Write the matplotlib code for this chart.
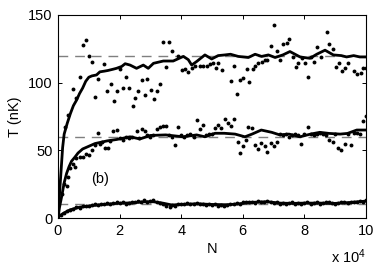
import matplotlib
matplotlib.use("Agg")
import matplotlib.pyplot as plt

plt.rcParams['font.family'] = ['Liberation Sans', 'DejaVu Sans']
plt.rcParams['mathtext.fontset'] = 'custom'
plt.rcParams['mathtext.rm'] = 'Liberation Sans'
plt.rcParams['mathtext.it'] = 'Liberation Sans'

# ---- data (N in units of 1e4, T in nK) ----
ref_levels = [120, 60, 10]

top_curve_x = [0, 0.05, 0.1, 0.15, 0.2, 0.3, 0.4, 0.5, 0.6, 0.7, 0.8, 0.9, 1.0, 1.1, 1.25,
               1.36, 1.5, 1.62, 1.8, 1.9, 2.07, 2.18, 2.34, 2.55, 2.77, 2.93, 3.1, 3.42,
               3.74, 4.07, 4.23, 4.34, 4.5, 4.77, 4.99, 5.2, 5.42, 5.6, 5.85, 6.18, 6.4,
               6.61, 6.83, 7.05, 7.3, 7.53, 7.86, 8.18, 8.4, 8.67, 8.94, 9.2, 9.37, 9.6,
               9.8, 10.0]
top_curve_y = [0, 18, 35, 52, 62, 70, 77, 83, 87, 92, 96, 101, 104, 105, 105.7,
               108, 108.5, 109, 110, 110.6, 112, 114, 113, 110.6, 113, 110.6, 114.3, 116,
               116, 119.4, 117, 113, 115.6, 120.5, 117.5, 120, 120.5, 121, 119.4, 118.6, 121,
               119.4, 120.5, 118.6, 120.5, 123, 119, 118, 121, 124, 120.5, 120, 119, 120,
               119, 119]

mid_curve_x = [0, 0.05, 0.12, 0.2, 0.28, 0.36, 0.44, 0.55, 0.65, 0.8, 1.0, 1.2, 1.4, 1.6,
               1.9, 2.34, 2.66, 3.0, 3.5, 4.06, 4.5, 4.77, 5.1, 5.4, 5.75, 6.07, 6.3, 6.6,
               6.94, 7.2, 7.5, 7.86, 8.2, 8.5, 8.8, 9.16, 9.4, 9.7, 10.0]
mid_curve_y = [0, 8, 16, 26, 33, 38, 42, 45, 48, 51, 53, 55, 56, 57,
               58, 60, 58.4, 61, 61.4, 60, 61.4, 60, 62.6, 62.6, 62, 60, 62, 65,
               63.3, 61.4, 62, 60, 62, 63.3, 62.5, 62, 62.5, 65, 65]

bot_curve_x = [0, 0.05, 0.17, 0.39, 0.7, 1.15, 1.5, 1.9, 2.4, 2.8, 3.1, 3.4, 3.7, 4.0,
               4.5, 5.0, 5.5, 5.9, 6.2, 6.8, 7.2, 7.6, 8.0, 8.5, 9.0, 9.5, 10.0]
bot_curve_y = [0, 1.5, 3.4, 6, 8, 9.3, 10, 10.8, 11.2, 12, 12, 11, 9.6, 10,
               10.5, 10, 9.8, 10.5, 11.5, 12, 11, 10.8, 11, 11, 10.8, 11.5, 12.5]

top_pts_x = [0.23, 0.34, 0.5, 0.6, 0.71, 0.82, 0.91, 1.02, 1.11, 1.2, 1.31, 1.5, 1.6, 1.71,
             1.82, 1.92, 2.02, 2.12, 2.22, 2.31, 2.42, 2.5, 2.6, 2.72, 2.82, 2.9, 3.02,
             3.12, 3.2, 3.31, 3.4, 3.5, 3.61, 3.71, 3.88, 4.01, 4.12, 4.23, 4.35, 4.45,
             4.6, 4.7, 4.83, 4.93, 5.04, 5.13, 5.2, 5.31, 5.62, 5.72, 5.81, 5.92, 6.02,
             6.13, 6.21, 6.32, 6.4, 6.5, 6.61, 6.72, 6.8, 6.9, 7.01, 7.12, 7.2, 7.31,
             7.42, 7.5, 7.62, 7.72, 7.8, 7.91, 8.02, 8.13, 8.21, 8.32, 8.42, 8.53, 8.72,
             8.81, 8.92, 9.02, 9.12, 9.21, 9.32, 9.43, 9.61, 9.72, 9.83, 9.91, 10.0]
top_pts_y = [67, 76, 95, 88.5, 104, 128, 131.5, 120, 115, 89.6, 103, 113.6, 94, 99,
             86.7, 94, 110, 96, 104, 96, 83, 89, 93.5, 102, 91, 103, 94.6,
             87.7, 93.5, 99, 130.4, 111.4, 130.4, 123.4, 120, 109.4, 110, 108, 111, 112,
             112, 112, 112.6, 113.6, 114.8, 111, 114.8, 109.4, 101.5, 112.3, 91.6, 102, 103.7,
             110, 100.3, 110.3, 112.3, 114.3, 115.6, 116.4, 116.9, 127, 142.6, 123.7, 117, 128.4,
             129, 132, 119, 111.8, 114.3, 118, 114.3, 104, 118.6, 115.6, 126, 118.6, 137.8,
             128.4, 124.7, 111.4, 114.8, 108.3, 110.6, 114.3, 108.6, 106.2, 107.4, 111, 111]

mid_pts_x = [0.12, 0.2, 0.28, 0.33, 0.4, 0.5, 0.55, 0.6, 0.7, 0.8, 0.9, 1.0, 1.1, 1.2,
             1.31, 1.36, 1.42, 1.53, 1.63, 1.7, 1.79, 1.9, 2.0, 2.1, 2.2, 2.3, 2.4, 2.55,
             2.62, 2.72, 2.82, 2.9, 3.0, 3.1, 3.2, 3.31, 3.41, 3.5, 3.6, 3.7, 3.8, 3.9,
             4.0, 4.1, 4.2, 4.3, 4.4, 4.5, 4.6, 4.7, 4.8, 4.9, 5.0, 5.1, 5.2, 5.3, 5.42,
             5.53, 5.62, 5.7, 5.83, 5.91, 6.0, 6.1, 6.17, 6.3, 6.4, 6.5, 6.6, 6.72, 6.8,
             6.92, 7.0, 7.1, 7.2, 7.3, 7.4, 7.5, 7.6, 7.7, 7.8, 7.9, 8.0, 8.13, 8.2, 8.3,
             8.4, 8.5, 8.6, 8.7, 8.8, 8.92, 9.0, 9.1, 9.2, 9.32, 9.4, 9.5, 9.6, 9.7, 9.8,
             9.9, 10.0]
mid_pts_y = [18, 25, 24, 30, 37, 40, 38, 44, 45, 45, 47, 46.5, 50, 54,
             62.6, 55, 56, 51.5, 51.5, 57, 64, 65, 59, 58, 60, 59, 60, 64,
             59, 66, 64, 61, 60, 61, 66, 67.5, 68, 68, 61, 60, 54, 67,
             61, 60, 61, 62, 60, 72.5, 66, 69, 61, 62, 62, 66.5, 69, 66.5, 73,
             70, 68, 73, 56, 48, 53, 58, 67, 66.5, 54, 51, 55.5, 53, 49,
             55.6, 53, 56, 62, 61, 62, 60, 61, 62, 61, 54.5, 62, 67.5, 62, 61,
             62, 63, 62, 61, 57.6, 56, 62, 51.5, 50, 54.6, 62, 54, 63, 63, 62,
             71.7, 75]

bot_pts_x = [0.1, 0.2, 0.3, 0.4, 0.5, 0.6, 0.7, 0.8, 0.9, 1.0, 1.1, 1.2, 1.3, 1.4, 1.5,
             1.6, 1.7, 1.8, 1.9, 2.0, 2.1, 2.2, 2.3, 2.4, 2.5, 2.6, 2.7, 2.8, 2.9, 3.0,
             3.1, 3.2, 3.3, 3.4, 3.5, 3.64, 3.7, 3.8, 3.9, 4.0, 4.1, 4.2, 4.3, 4.4, 4.5,
             4.6, 4.7, 4.8, 4.9, 5.0, 5.1, 5.2, 5.3, 5.4, 5.5, 5.6, 5.7, 5.8, 5.9, 6.0,
             6.1, 6.2, 6.3, 6.4, 6.5, 6.6, 6.7, 6.8, 6.9, 7.0, 7.1, 7.2, 7.3, 7.4, 7.5,
             7.6, 7.7, 7.8, 7.9, 8.0, 8.1, 8.2, 8.3, 8.4, 8.5, 8.6, 8.7, 8.8, 8.9, 9.0,
             9.1, 9.2, 9.3, 9.4, 9.5, 9.6, 9.7, 9.8, 9.9, 10.0]
bot_pts_y = [2, 4, 5, 6, 6.5, 8, 7.5, 9, 8.5, 9, 9.5, 10, 9.5, 10.5, 10,
             11, 10.5, 11, 12, 11, 11.5, 10.5, 11, 12, 11.5, 12.5, 12, 13, 12, 12.5,
             13.3, 11.5, 11, 10.5, 9, 8.4, 9.5, 9, 10, 10.5, 10, 11, 10, 10.5, 11,
             10, 10.5, 9.5, 10, 9.5, 10, 9, 9.5, 8.5, 9.5, 10, 10.5, 11, 10.5, 11.5,
             12, 11.5, 12, 11, 12.5, 12, 11.5, 12.5, 11.5, 11, 11.5, 10.5, 11, 10.5, 11,
             11.5, 10.5, 11, 10, 11, 11.5, 10.5, 11, 11.5, 10.5, 11, 12, 11.5, 11, 10.5,
             11, 11.5, 12, 11, 11.5, 12, 11.5, 12.5, 12, 13]

fig = plt.figure(figsize=(3.82, 2.66), dpi=100)
ax = fig.add_axes([58/382, 1-218/266, (366-58)/382, (218-15)/266])

for lv in ref_levels:
    ax.axhline(lv, color='#7f7f7f', lw=1.0, dashes=(7, 5), zorder=1)

for px, py in [(top_pts_x, top_pts_y), (mid_pts_x, mid_pts_y), (bot_pts_x, bot_pts_y)]:
    ax.plot(px, py, 'o', color='black', ms=2.8, mew=0, zorder=2)

for cx, cy in [(top_curve_x, top_curve_y), (mid_curve_x, mid_curve_y), (bot_curve_x, bot_curve_y)]:
    ax.plot(cx, cy, '-', color='black', lw=2.0, zorder=3, solid_joinstyle='round')

ax.set_xlim(0, 10)
ax.set_ylim(0, 150)
ax.set_xticks([0, 2, 4, 6, 8, 10])
ax.set_yticks([0, 50, 100, 150])
ax.tick_params(direction='in', length=3, width=0.7, top=True, right=True,
               labelsize=10.5, pad=4)
for s in ax.spines.values():
    s.set_linewidth(0.8)

ax.set_xlabel('N', fontsize=10.5, labelpad=3)
ax.set_ylabel('T (nK)', fontsize=10.5, labelpad=4)
ax.text(1.35, 29, '(b)', fontsize=10.5, ha='center', va='center')
fig.text(366/382, 3/266, 'x 10$^{4}$', fontsize=10.5, ha='right', va='baseline')

fig.savefig('out.png', dpi=100)
